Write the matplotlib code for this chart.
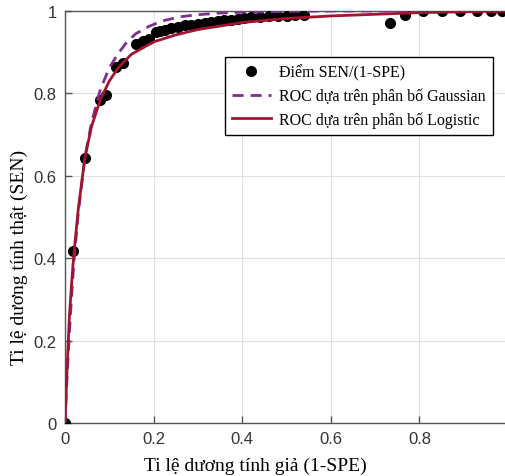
import matplotlib
matplotlib.use("Agg")
import matplotlib.pyplot as plt

# Observed SEN/(1-SPE) points
pts_x = [0, 0.019, 0.045, 0.08, 0.093, 0.115, 0.13, 0.16, 0.175, 0.19,
         0.205, 0.215, 0.225, 0.24, 0.255, 0.27, 0.285, 0.30, 0.315, 0.33,
         0.345, 0.36, 0.375, 0.39, 0.405, 0.42, 0.44, 0.46, 0.48, 0.50,
         0.52, 0.54, 0.733, 0.767, 0.807, 0.85, 0.891, 0.931, 0.962, 0.986]
pts_y = [0, 0.417, 0.643, 0.785, 0.795, 0.865, 0.875, 0.92, 0.928, 0.932,
         0.948, 0.952, 0.955, 0.958, 0.962, 0.965, 0.967, 0.969, 0.971, 0.973,
         0.975, 0.977, 0.979, 0.981, 0.983, 0.985, 0.986, 0.987, 0.988, 0.989,
         0.990, 0.991, 0.972, 0.990, 0.999, 1.0, 1.0, 1.0, 1.0, 1.0]

# Gaussian (binormal) ROC curve
gau_x = [0, 0.0025, 0.005, 0.0075, 0.01, 0.015, 0.02, 0.03, 0.045, 0.06, 0.08,
         0.1, 0.12, 0.14, 0.16, 0.19, 0.22, 0.26, 0.3, 0.35, 0.4, 0.5, 0.6, 0.8, 1.0]
gau_y = [0, 0.06, 0.12, 0.17, 0.22, 0.31, 0.39, 0.51, 0.645, 0.73, 0.81,
         0.862, 0.897, 0.925, 0.945, 0.963, 0.976, 0.986, 0.991, 0.995, 0.997,
         0.999, 1.0, 1.0, 1.0]

# Logistic ROC curve
log_x = [0, 0.0025, 0.005, 0.0075, 0.01, 0.015, 0.02, 0.03, 0.045, 0.06, 0.08,
         0.1, 0.12, 0.15, 0.2, 0.25, 0.3, 0.4, 0.5, 0.6, 0.7, 0.8, 0.9, 1.0]
log_y = [0, 0.07, 0.14, 0.20, 0.26, 0.34, 0.41, 0.52, 0.645, 0.72, 0.785,
         0.83, 0.862, 0.895, 0.925, 0.942, 0.955, 0.972, 0.982, 0.988, 0.992,
         0.996, 0.998, 1.0]

ticks = [0, 0.2, 0.4, 0.6, 0.8, 1]
tick_labels = ["0", "0.2", "0.4", "0.6", "0.8", "1"]

W, H = 506, 477
fig = plt.figure(figsize=(W / 100, H / 100), dpi=100)
ax = fig.add_axes([65 / W, 53 / H, 443 / W, 412 / H])

ax.plot(pts_x, pts_y, 'o', color='black', ms=7, label='Điểm SEN/(1-SPE)', zorder=3)
ax.plot(gau_x, gau_y, '--', color='#7E2F8E', lw=2, dashes=(4, 2.5),
        label='ROC dựa trên phân bố Gaussian', zorder=4)
ax.plot(log_x, log_y, '-', color='#A2142F', lw=2,
        label='ROC dựa trên phân bố Logistic', zorder=5)

ax.set_xlim(0, 1)
ax.set_ylim(0, 1)
ax.set_xticks(ticks)
ax.set_xticklabels(tick_labels)
ax.set_yticks(ticks)
ax.set_yticklabels(tick_labels)
ax.grid(True, color='#e0e0e0', lw=0.8)
ax.set_axisbelow(True)
for s in ax.spines.values():
    s.set_color('#555555')
    s.set_linewidth(1.0)
ax.tick_params(direction='in', length=5, width=1, color='#555555',
               labelsize=12, labelcolor='#333333', pad=6)
for lab in ax.get_xticklabels() + ax.get_yticklabels():
    lab.set_family('Liberation Sans')

fig.text(255 / W, 1 - 466 / H, 'Ti lệ dương tính giả (1-SPE)', family='Liberation Serif',
         fontsize=14, ha='center', va='center')
fig.text(19 / W, 1 - 257 / H, 'Ti lệ dương tính thật (SEN)', family='Liberation Serif',
         fontsize=14, ha='center', va='center', rotation=90)

leg = ax.legend(loc='upper left', bbox_to_anchor=((225 - 65) / 443, (424 - 58) / 412),
                borderaxespad=0,
                prop={'family': 'Liberation Serif', 'size': 11.5},
                frameon=True, fancybox=False, framealpha=1, edgecolor='black',
                handlelength=2.4, borderpad=0.45, labelspacing=0.45, handletextpad=0.55)
leg.get_frame().set_linewidth(1.0)

fig.savefig('out.png', dpi=100)
